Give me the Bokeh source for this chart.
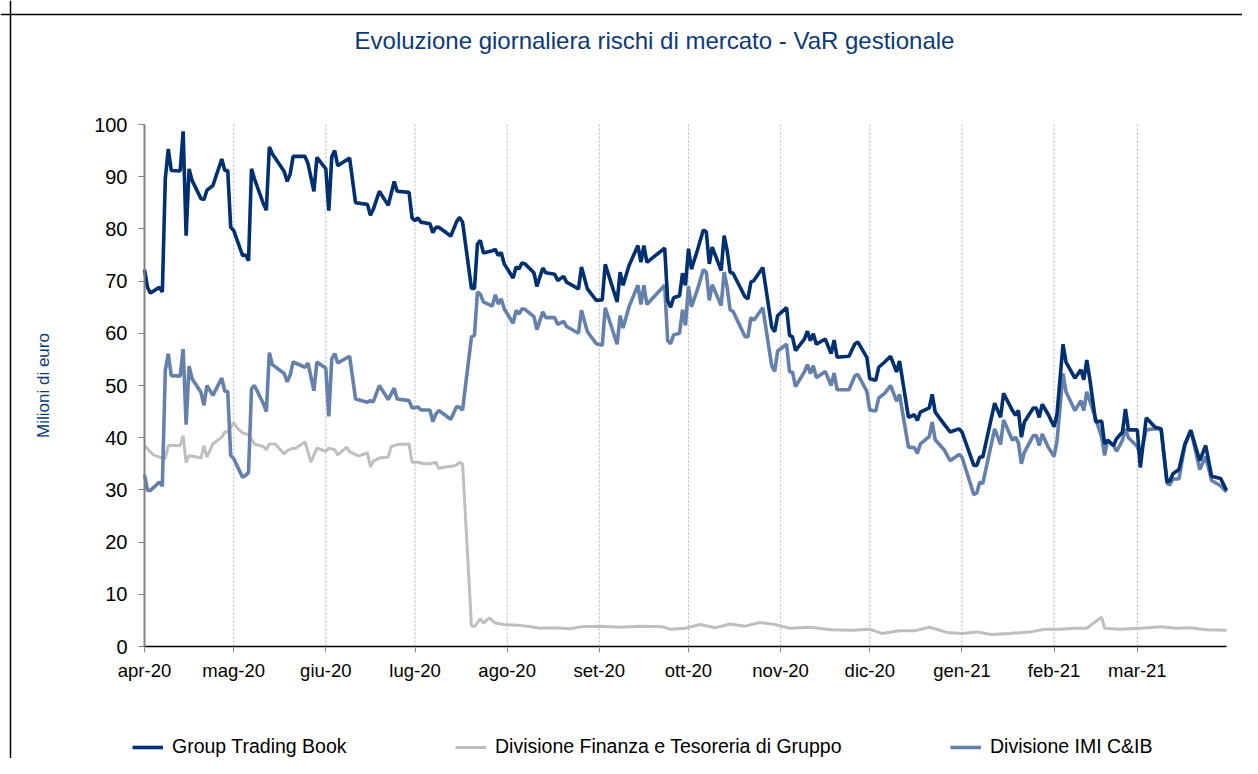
from bokeh.plotting import figure
from bokeh.models import Range1d, FixedTicker, Legend, LegendItem, Label, Span
from bokeh.embed import file_html
from bokeh.resources import INLINE

# ---- tick labels (month starts, days since 1 Apr 2020) ----
month_days = [0, 30, 61, 91, 122, 153, 183, 214, 244, 275, 306, 334]
month_labels = ["apr-20", "mag-20", "giu-20", "lug-20", "ago-20", "set-20",
                "ott-20", "nov-20", "dic-20", "gen-21", "feb-21", "mar-21"]
y_ticks = [0, 10, 20, 30, 40, 50, 60, 70, 80, 90, 100]

# ---- Group Trading Book / Divisione IMI C&IB (days since 1 Apr 2020) ----
day = [0, 1, 2, 5, 6, 7, 8, 9, 12, 13, 14, 15, 16, 19, 20, 21, 23, 26, 27, 28,
       29, 30, 33, 34, 35, 36, 37, 40, 41, 42, 43, 47, 48, 49, 50, 54, 55, 57, 58, 61,
       62, 63, 64, 65, 69, 71, 75, 76, 77, 79, 82, 84, 85, 89, 90, 91, 92, 93, 96, 97,
       98, 99, 101, 103, 105, 106, 107, 110, 111, 112, 113, 114, 117, 118, 119, 120, 121, 124, 125, 126,
       127, 128, 131, 132, 134, 135, 138, 139, 141, 142, 146, 147, 149, 152, 154, 155, 159, 160, 161, 163,
       166, 167, 168, 169, 175, 176, 177, 178, 180, 181, 182, 183, 184, 186, 188, 189, 190, 191, 194, 195,
       196, 197, 198, 202, 203, 204, 205, 208, 211, 212, 213, 216, 217, 218, 219, 222, 223, 224, 225, 226,
       229, 231, 232, 233, 237, 239, 240, 243, 244, 246, 247, 249, 251, 253, 254, 257, 259, 260, 261, 264,
       265, 266, 269, 271, 274, 275, 279, 280, 281, 282, 286, 288, 289, 292, 293, 294, 295, 296, 299, 300,
       301, 302, 304, 306, 307, 309, 310, 313, 315, 316, 317, 318, 320, 322, 323, 324, 326, 327, 329, 330,
       331, 334, 335, 337, 340, 342, 344, 345, 346, 348, 350, 352, 355, 357, 359, 362, 364]

gtb = [72.2, 68.8, 67.7, 68.8, 67.9, 89.6, 95.3, 91.2, 91.1, 98.7, 78.7, 91.5, 89.3, 85.8, 85.6, 87.4, 88.3, 93.4, 91.2, 91.2,
       80.3, 79.7, 74.9, 75.0, 73.9, 91.5, 89.6, 84.8, 83.6, 95.7, 94.4, 91.0, 89.1, 90.5, 93.9, 93.9, 92.5, 87.2, 93.7, 91.5,
       83.5, 93.8, 95.0, 92.1, 93.6, 85.0, 84.7, 82.6, 83.8, 87.2, 84.5, 89.1, 87.2, 87.0, 82.1, 81.6, 82.1, 81.3, 81.0, 79.3,
       80.3, 80.3, 79.5, 78.6, 81.4, 82.2, 81.3, 68.6, 68.6, 77.1, 77.8, 75.4, 75.8, 76.1, 74.9, 75.5, 73.3, 70.6, 72.7, 72.3,
       73.5, 73.3, 71.6, 69.0, 72.5, 71.6, 71.3, 70.1, 70.9, 69.8, 68.5, 72.7, 68.5, 66.3, 66.4, 73.2, 66.0, 71.7, 69.2, 73.0,
       76.8, 73.6, 76.8, 73.6, 76.3, 66.3, 65.0, 66.8, 67.2, 71.5, 69.2, 76.2, 72.3, 75.9, 79.8, 79.4, 73.3, 76.5, 72.0, 78.7,
       75.9, 71.7, 71.5, 67.0, 66.6, 69.8, 70.1, 72.6, 61.2, 60.3, 63.4, 64.9, 59.6, 59.3, 56.7, 58.9, 60.4, 58.6, 59.9, 57.9,
       58.9, 56.1, 58.7, 55.4, 55.6, 58.0, 58.3, 55.4, 51.3, 51.0, 53.5, 54.5, 55.6, 52.6, 54.7, 43.9, 44.4, 43.3, 44.9, 45.7,
       48.3, 44.9, 42.6, 41.1, 41.7, 41.1, 34.7, 34.7, 36.3, 36.3, 46.6, 43.9, 48.5, 45.2, 44.3, 45.2, 40.1, 43.0, 45.7, 45.7,
       43.9, 46.4, 44.5, 42.1, 44.6, 57.9, 54.5, 51.4, 53.0, 51.1, 54.9, 51.3, 43.0, 43.2, 38.8, 39.5, 38.5, 39.8, 41.1, 45.5,
       41.5, 41.5, 34.3, 43.8, 42.0, 41.7, 31.5, 31.8, 33.1, 33.9, 38.8, 41.4, 35.6, 38.5, 32.6, 32.2, 29.9]

imi = [32.9, 29.9, 29.9, 31.5, 30.7, 52.9, 56.1, 51.9, 51.8, 57.0, 42.5, 53.7, 51.3, 48.7, 46.2, 50.0, 48.1, 51.4, 48.9, 48.9,
       36.6, 36.0, 32.4, 32.8, 33.3, 49.4, 50.0, 46.5, 45.0, 56.3, 54.0, 52.3, 50.7, 52.0, 54.5, 53.5, 54.3, 49.0, 54.5, 53.3,
       44.1, 55.1, 56.1, 54.3, 55.6, 47.4, 46.8, 47.1, 46.9, 50.0, 47.3, 49.5, 47.4, 47.1, 45.7, 45.8, 45.9, 45.3, 45.3, 43.1,
       44.5, 45.2, 44.4, 43.5, 46.0, 45.8, 45.3, 59.3, 59.6, 67.9, 67.5, 66.0, 65.2, 67.4, 65.6, 66.6, 64.7, 61.9, 64.4, 63.7,
       64.7, 64.6, 63.2, 60.7, 64.1, 63.0, 63.0, 61.7, 62.3, 61.3, 60.0, 64.4, 60.3, 58.0, 57.7, 64.9, 57.9, 63.4, 61.0, 65.1,
       69.2, 65.5, 69.2, 65.5, 69.2, 58.6, 58.0, 59.7, 60.0, 64.5, 61.5, 69.0, 65.1, 68.3, 72.2, 71.7, 66.3, 69.3, 65.3, 71.7,
       68.9, 64.5, 64.2, 59.4, 59.3, 63.0, 62.5, 64.9, 53.8, 52.7, 56.6, 57.9, 52.6, 52.6, 49.8, 52.6, 54.0, 52.3, 53.8, 51.5,
       52.7, 50.0, 52.4, 49.2, 49.2, 51.9, 52.1, 48.9, 45.3, 45.1, 47.6, 48.5, 50.0, 47.0, 48.3, 38.2, 38.1, 37.0, 38.8, 40.2,
       43.0, 39.6, 37.7, 35.6, 36.8, 36.3, 29.1, 29.4, 31.5, 31.2, 41.7, 38.7, 43.4, 39.5, 40.1, 39.0, 35.0, 37.2, 40.4, 40.4,
       38.5, 40.7, 38.2, 36.4, 39.5, 52.3, 48.8, 45.2, 47.1, 45.2, 48.8, 47.1, 43.6, 40.1, 36.6, 39.6, 38.5, 37.4, 39.5, 41.7,
       40.0, 38.3, 36.6, 41.5, 41.7, 41.7, 31.2, 31.0, 32.1, 32.1, 38.5, 41.5, 33.9, 36.4, 31.8, 30.8, 29.6]

# ---- Divisione Finanza e Tesoreria di Gruppo ----
fin_day = [0, 1, 3, 6, 7, 8, 12, 13, 14, 15, 19, 20, 21, 23, 26, 27, 28, 30, 31, 33,
           35, 37, 40, 41, 42, 44, 47, 48, 50, 51, 54, 56, 58, 61, 62, 64, 65, 68, 69, 72,
           75, 76, 77, 79, 82, 83, 85, 89, 90, 92, 94, 96, 98, 99, 101, 104, 105, 106, 107, 110,
           111, 113, 114, 116, 118, 120, 121, 127, 130, 133, 138, 143, 147, 153, 160, 167, 174, 177, 182, 187,
           192, 197, 202, 207, 212, 217, 224, 231, 238, 244, 248, 254, 259, 264, 270, 275, 280, 285, 291, 298,
           303, 308, 313, 317, 320, 322, 323, 328, 335, 342, 347, 352, 357, 364]
fin = [38.5, 37.9, 36.7, 36.1, 36.0, 38.5, 38.5, 40.4, 35.2, 36.6, 36.1, 38.5, 36.3, 38.8, 40.1, 41.1, 41.1, 42.9, 42.0, 40.9,
       40.6, 38.8, 38.3, 37.7, 38.8, 38.8, 36.9, 37.5, 38.0, 38.0, 39.2, 35.3, 38.0, 37.4, 38.0, 37.7, 36.7, 38.2, 37.3, 36.5,
       37.1, 34.4, 35.5, 36.1, 36.3, 38.3, 38.7, 38.8, 35.3, 35.3, 35.0, 35.0, 35.3, 34.1, 34.4, 34.6, 34.8, 35.3, 35.0, 4.0,
       3.8, 5.3, 4.5, 5.5, 4.5, 4.3, 4.2, 4.0, 3.8, 3.5, 3.6, 3.4, 3.8, 3.9, 3.7, 3.9, 3.8, 3.3, 3.5, 4.2,
       3.6, 4.3, 3.9, 4.6, 4.2, 3.5, 3.7, 3.2, 3.1, 3.3, 2.5, 3.0, 3.0, 3.7, 2.7, 2.5, 2.8, 2.3, 2.5, 2.8,
       3.3, 3.3, 3.5, 3.5, 4.8, 5.6, 3.5, 3.3, 3.5, 3.8, 3.5, 3.6, 3.2, 3.1]

series_names = ["Group Trading Book", "Divisione Finanza e Tesoreria di Gruppo", "Divisione IMI C&IB"]
title_text = "Evoluzione giornaliera rischi di mercato - VaR gestionale"

C_GTB = "#00306F"
C_FIN = "#BFBFBF"
C_IMI = "#6581AB"
C_TXT = "#0B3A78"
FONT = "Liberation Sans"

# layout geometry (pixels inside the figure)
W, H = 1242, 758
PX_DAY = 1082 / 364.0      # pixels per day
PX_VAL = 522 / 100.0       # pixels per unit
X0, Y0 = 144, 646          # pixel of day 0 / value 0

x_rng = Range1d(-X0 / PX_DAY, (W - X0) / PX_DAY)
y_rng = Range1d(-(H - Y0) / PX_VAL, Y0 / PX_VAL)

p = figure(width=W, height=H, output_backend="svg", toolbar_location=None,
           x_range=x_rng, y_range=y_rng,
           min_border_left=0, min_border_right=0, min_border_top=0, min_border_bottom=0)
p.outline_line_color = None
p.background_fill_color = "white"
p.border_fill_color = "white"

# outer chart border (left and top)
p.add_layout(Span(location=(10 - X0) / PX_DAY, dimension="height", line_color="black", line_width=1.5))
p.add_layout(Span(location=(Y0 - 14) / PX_VAL, dimension="width", line_color="black", line_width=1.5))

# vertical dotted month gridlines between 0 and 100
gx = month_days[1:]
p.segment(x0=gx, y0=[y_ticks[0]] * len(gx), x1=gx, y1=[y_ticks[-1]] * len(gx),
          line_color="#B4B4B4", line_dash="2 2", line_width=1)

r_fin = p.line(fin_day, fin, line_color=C_FIN, line_width=3)
r_imi = p.line(day, imi, line_color=C_IMI, line_width=3.6)
r_gtb = p.line(day, gtb, line_color=C_GTB, line_width=3.6)

# axes fixed at the origin
p.xaxis.fixed_location = 0
p.xaxis.bounds = (0, 364)
p.xaxis.ticker = FixedTicker(ticks=month_days)
p.xaxis.major_label_overrides = {d: lab for d, lab in zip(month_days, month_labels)}
p.xaxis.minor_tick_line_color = None
p.xaxis.major_tick_out = 6
p.xaxis.major_tick_in = 0
p.xaxis.major_tick_line_color = "#8C8C8C"
p.xaxis.axis_line_color = "black"
p.xaxis.axis_line_width = 1.5
p.xaxis.major_label_text_font = FONT
p.xaxis.major_label_text_font_size = "18.5px"
p.xaxis.major_label_text_color = "black"
p.xaxis.major_label_standoff = 7

p.yaxis.fixed_location = 0
p.yaxis.bounds = (0, 100)
p.yaxis.ticker = FixedTicker(ticks=y_ticks)
p.yaxis.minor_tick_line_color = None
p.yaxis.major_tick_out = 6
p.yaxis.major_tick_in = 0
p.yaxis.major_tick_line_color = "#808080"
p.yaxis.axis_line_color = "#808080"
p.yaxis.axis_line_width = 2
p.yaxis.major_label_text_font = FONT
p.yaxis.major_label_text_font_size = "20px"
p.yaxis.major_label_text_color = "black"
p.yaxis.major_label_standoff = 11
p.yaxis.axis_label = "Milioni di euro"
p.yaxis.axis_label_text_font = FONT
p.yaxis.axis_label_text_font_size = "17px"
p.yaxis.axis_label_text_font_style = "normal"
p.yaxis.axis_label_text_color = C_TXT
p.yaxis.axis_label_standoff = 38

p.xgrid.grid_line_color = None
p.ygrid.grid_line_color = None

# title
p.add_layout(Label(x=(654 - X0) / PX_DAY, y=(Y0 - 40) / PX_VAL, text=title_text,
                   text_align="center", text_baseline="middle",
                   text_font=FONT, text_font_size="24px", text_color=C_TXT))

# legend (one entry per box, positioned from frame bottom-left)
for r, name, xoff in [(r_gtb, series_names[0], 132), (r_fin, series_names[1], 455), (r_imi, series_names[2], 950)]:
    lg = Legend(items=[LegendItem(label=name, renderers=[r])], location=(xoff, 0),
                orientation="horizontal", glyph_width=31, glyph_height=18, label_height=18,
                label_standoff=9, padding=0, margin=0, border_line_color=None,
                background_fill_alpha=0, label_text_font=FONT, label_text_font_size="19.5px",
                label_text_color="black")
    p.add_layout(lg)

open("out.html", "w").write(file_html(p, INLINE))
